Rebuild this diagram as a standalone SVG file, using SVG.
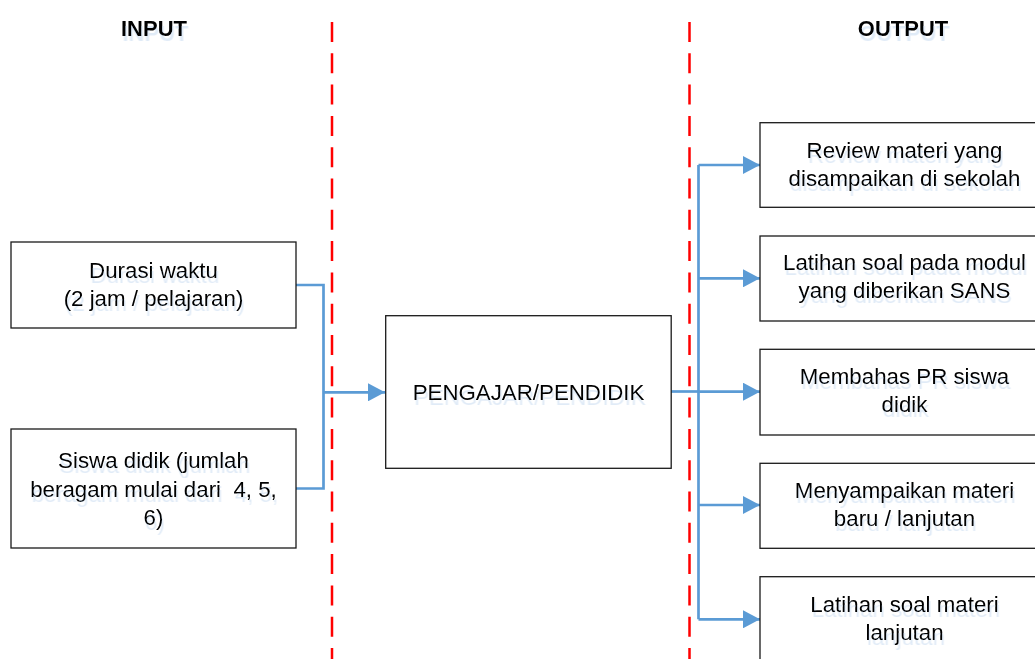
<svg xmlns="http://www.w3.org/2000/svg" width="1035" height="659" viewBox="0 0 1035 659">
  <defs>
    <style>
      .box { fill: #ffffff; stroke: #1a1a1a; stroke-width: 1.3; }
      .txt { font-family: "Liberation Sans", Arial, sans-serif; font-size: 22.3px; fill: #000000; text-anchor: middle; filter: url(#ghost); }
      .hdr { font-family: "Liberation Sans", Arial, sans-serif; font-size: 22px; font-weight: bold; fill: #000000; text-anchor: middle; filter: url(#ghost); }
      .conn { fill: none; stroke: #5b9bd5; stroke-width: 2.7; }
      .divider { fill: none; stroke: #ff0000; stroke-width: 2.5; stroke-dasharray: 20 11.3; }
    </style>
    <filter id="ghost" x="-10%" y="-30%" width="130%" height="180%">
      <feDropShadow dx="1.5" dy="5" stdDeviation="0.4" flood-color="#c2d7ef" flood-opacity="0.5"/>
    </filter>
    <marker id="arrow" viewBox="0 0 17 18" refX="17" refY="9" markerWidth="17" markerHeight="18" markerUnits="userSpaceOnUse" orient="auto">
      <path d="M0,0 L17,9 L0,18 Z" fill="#5b9bd5"/>
    </marker>
  </defs>

  <g id="dividers">
    <line class="divider" x1="332" y1="22" x2="332" y2="659"/>
    <line class="divider" x1="689.5" y1="22" x2="689.5" y2="659"/>
  </g>

  <g id="header-input"><text class="hdr" x="154" y="36">INPUT</text></g>
  <g id="header-output"><text class="hdr" x="903" y="36">OUTPUT</text></g>

  <g id="connectors">
    <path class="conn" d="M296,285 H323.5 V488.5 H296"/>
    <path class="conn" d="M323.5,392.3 H385" marker-end="url(#arrow)"/>
    <path class="conn" d="M671,391.5 H698.5"/>
    <path class="conn" d="M698.5,165 V619.3"/>
    <path class="conn" d="M698.5,165 H760" marker-end="url(#arrow)"/>
    <path class="conn" d="M698.5,278.3 H760" marker-end="url(#arrow)"/>
    <path class="conn" d="M698.5,391.7 H760" marker-end="url(#arrow)"/>
    <path class="conn" d="M698.5,505 H760" marker-end="url(#arrow)"/>
    <path class="conn" d="M698.5,619.3 H760" marker-end="url(#arrow)"/>
  </g>

  <g id="node-durasi">
    <rect class="box" x="11" y="242" width="285" height="86"/>
    <text class="txt" x="153.5" y="278">Durasi waktu</text>
    <text class="txt" x="153.5" y="306">(2 jam / pelajaran)</text>
  </g>

  <g id="node-siswa">
    <rect class="box" x="11" y="429" width="285" height="119"/>
    <text class="txt" x="153.5" y="468">Siswa didik (jumlah</text>
    <text class="txt" x="153.5" y="496.5" xml:space="preserve">beragam mulai dari  4, 5,</text>
    <text class="txt" x="153.5" y="525">6)</text>
  </g>

  <g id="node-pengajar">
    <rect class="box" x="385.7" y="315.7" width="285.5" height="152.6"/>
    <text class="txt" x="528.5" y="399.5">PENGAJAR/PENDIDIK</text>
  </g>

  <g id="node-review">
    <rect class="box" x="760" y="122.7" width="290" height="84.6"/>
    <text class="txt" x="904.5" y="158.3">Review materi yang</text>
    <text class="txt" x="904.5" y="186">disampaikan di sekolah</text>
  </g>

  <g id="node-latihan-modul">
    <rect class="box" x="760" y="236" width="290" height="85"/>
    <text class="txt" x="904.5" y="270">Latihan soal pada modul</text>
    <text class="txt" x="904.5" y="298">yang diberikan SANS</text>
  </g>

  <g id="node-membahas">
    <rect class="box" x="760" y="349.3" width="290" height="85.7"/>
    <text class="txt" x="904.5" y="384.3">Membahas PR siswa</text>
    <text class="txt" x="904.5" y="412">didik</text>
  </g>

  <g id="node-menyampaikan">
    <rect class="box" x="760" y="463.3" width="290" height="85"/>
    <text class="txt" x="904.5" y="498">Menyampaikan materi</text>
    <text class="txt" x="904.5" y="525.5">baru / lanjutan</text>
  </g>

  <g id="node-latihan-lanjutan">
    <rect class="box" x="760" y="576.7" width="290" height="100"/>
    <text class="txt" x="904.5" y="611.7">Latihan soal materi</text>
    <text class="txt" x="904.5" y="640">lanjutan</text>
  </g>
</svg>
